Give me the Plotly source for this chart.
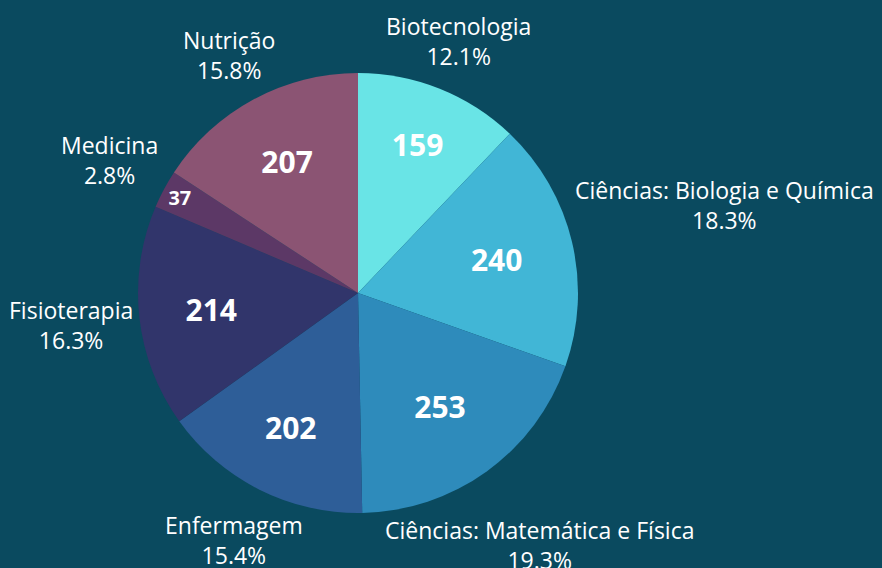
import math
import plotly.graph_objects as go

# ---- data ----
categories = ["Biotecnologia", "Ciências: Biologia e Química", "Ciências: Matemática e Física",
              "Enfermagem", "Fisioterapia", "Medicina", "Nutrição"]
values = [159, 240, 253, 202, 214, 37, 207]
colors = ["#69e4e6", "#41b6d6", "#2e8bbb", "#2e5e98", "#31356b", "#5c3866", "#8b5473"]
inside_sizes = [30, 30, 30, 30, 30, 23, 30]

BG = "#0a4a5f"
W, H = 882, 568
ML, MR, MT, MB = 138, 304, 73, 55
PW = W - ML - MR   # 440
PH = H - MT - MB   # 440
R = min(PW, PH) / 2.0
LABEL_SIZE = 23
LINE_H = 1.3 * LABEL_SIZE

# approximate Open Sans advance widths (em)
CW = {' ': .26, ':': .266, '.': .266, '%': .823,
      'a': .556, 'b': .613, 'c': .476, 'd': .613, 'e': .561, 'f': .336, 'g': .548, 'h': .613,
      'i': .253, 'j': .253, 'k': .526, 'l': .253, 'm': .930, 'n': .613, 'o': .604, 'p': .613,
      'q': .613, 'r': .408, 's': .477, 't': .353, 'u': .613, 'v': .5, 'w': .774, 'x': .522,
      'y': .5, 'z': .468, 'B': .641, 'C': .632, 'E': .556, 'F': .522, 'M': .905, 'N': .754,
      'Q': .780, 'ê': .561, 'á': .556, 'í': .253, 'ç': .476, 'ã': .556}


def text_w(s, size):
    return sum(CW.get(ch, .572 if ch.isdigit() else .58) for ch in s) * size


total = sum(values)
fig = go.Figure()
fig.add_trace(go.Pie(
    labels=categories, values=values, sort=False, direction="clockwise", rotation=0,
    marker=dict(colors=colors, line=dict(width=0)),
    text=[str(v) for v in values], textinfo="text", textposition="inside",
    insidetextorientation="horizontal",
    insidetextfont=dict(family="Open Sans", size=inside_sizes, color="white", weight="bold"),
    hoverinfo="label+value+percent", showlegend=False,
))

# outside labels: along the mid angle of each slice, pushed out until the
# label box clears the circle
annotations = []
cum = 0.0
for cat, v in zip(categories, values):
    mid = (cum + v / 2.0) / total * 2 * math.pi
    cum += v
    pct = f"{v / total * 100:.1f}%"
    w = max(text_w(cat, LABEL_SIZE), text_w(pct, LABEL_SIZE))
    h = 2 * LINE_H * 0.95
    s, c = math.sin(mid), -math.cos(mid)
    gap = 5

    def nearest(d):
        cx, cy = d * s, d * c
        if cx - w / 2 > 0:
            nx = cx - w / 2
        elif cx + w / 2 < 0:
            nx = cx + w / 2
        else:
            nx = 0
        if cy - h / 2 > 0:
            ny = cy - h / 2
        elif cy + h / 2 < 0:
            ny = cy + h / 2
        else:
            ny = 0
        return math.hypot(nx, ny)

    lo, hi = 0.0, 1000.0
    for _ in range(60):
        m = (lo + hi) / 2
        if nearest(m) < R + gap:
            lo = m
        else:
            hi = m
    d = hi
    px, py = d * s, d * c
    annotations.append(dict(
        x=0.5 + px / PW, y=0.5 - py / PH, xref="paper", yref="paper",
        text=f"{cat}<br>{pct}", showarrow=False, xanchor="center", yanchor="middle",
        align="center", font=dict(family="Open Sans", size=LABEL_SIZE, color="white"),
    ))

fig.update_layout(
    width=W, height=H,
    margin=dict(l=ML, r=MR, t=MT, b=MB),
    paper_bgcolor=BG, plot_bgcolor=BG,
    annotations=annotations,
    showlegend=False,
)

fig.write_html(
    "out.html",
    config={"displayModeBar": False},
    post_script="document.body.style.margin='0';document.body.style.background='" + BG + "';",
)
